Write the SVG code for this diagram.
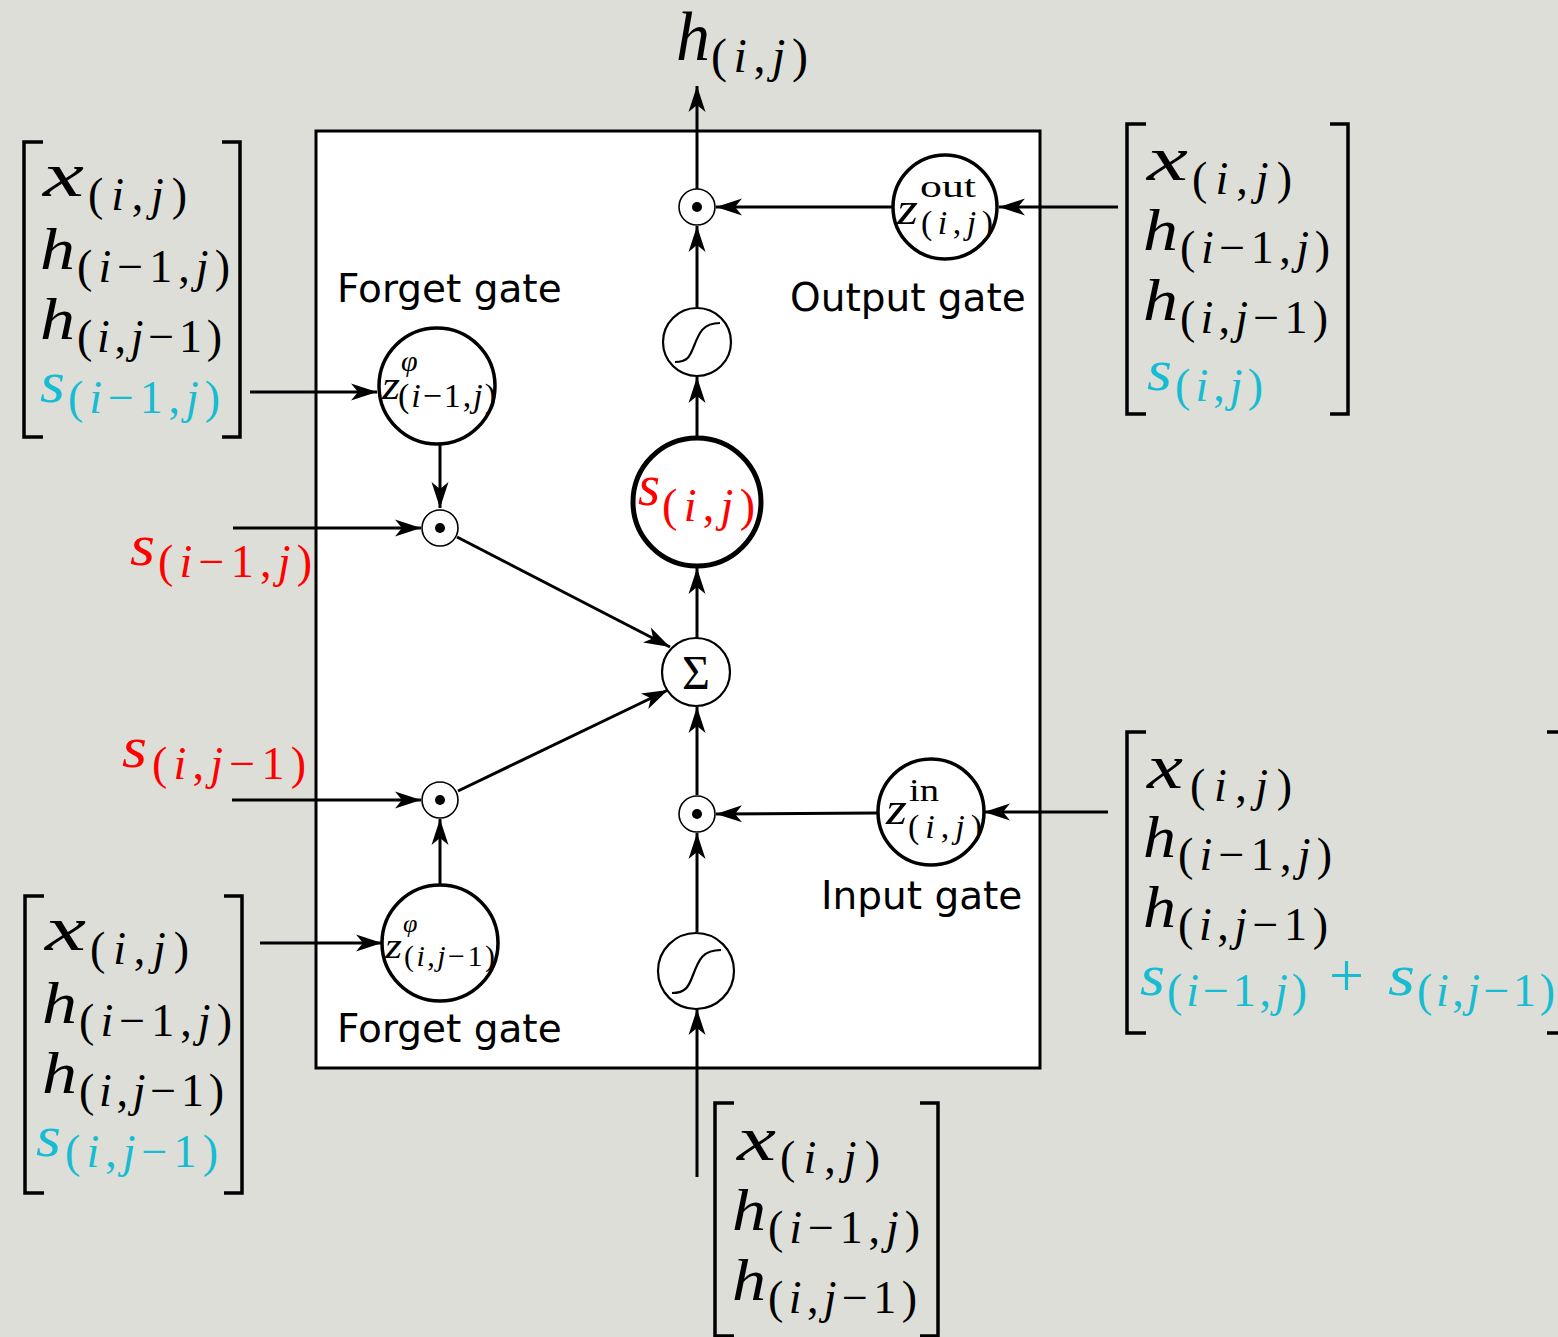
<svg xmlns="http://www.w3.org/2000/svg" width="1558" height="1337" viewBox="0 0 1558 1337">
<defs>
<style>
.m{font-family:"Liberation Serif","DejaVu Serif","Times New Roman",serif;font-style:italic;}
.u{font-style:normal;}
.L{font-size:60px;}
.X{font-size:64px;}
.S{font-size:46px;}
.cy{fill:#17bcd3;}
.rd{fill:#ff0000;}
.sans{font-family:"DejaVu Sans","Liberation Sans",sans-serif;font-size:39px;fill:#000;}
.br{fill:none;stroke:#000;stroke-width:3.5;}
.con{fill:none;stroke:#000;stroke-width:3;marker-end:url(#ah);}
.odot{fill:#fff;stroke:#000;stroke-width:1.6;}
.zc{fill:#fff;stroke:#000;stroke-width:3.5;}
.sg{fill:#fff;stroke:#000;stroke-width:2.2;}
.sgc{fill:none;stroke:#000;stroke-width:2.2;}
</style>
<marker id="ah" viewBox="-28 -10 30 20" refX="0" refY="0" markerWidth="30" markerHeight="20" markerUnits="userSpaceOnUse" orient="auto">
<path d="M0,0 L-26,-8.5 L-19,0 L-26,8.5 Z" fill="#000"/>
</marker>
</defs>
<rect x="0" y="0" width="1558" height="1337" fill="#dcded7"/>

<g id="cell-box">
<rect x="316" y="131" width="724" height="937" fill="#fff" stroke="#000" stroke-width="3"/>
</g>

<g id="connectors">
<path class="con" d="M697,189 V86"/>
<path class="con" d="M892,207 H716"/>
<path class="con" d="M1118,207 H999"/>
<path class="con" d="M697,307 V226"/>
<path class="con" d="M697,437 V377"/>
<path class="con" d="M697,639 V568"/>
<path class="con" d="M697,795 V707"/>
<path class="con" d="M697,932 V833"/>
<path class="con" d="M697,1177 V1009"/>
<path class="con" d="M877,813 L716,814"/>
<path class="con" d="M1108,812 H984"/>
<path class="con" d="M250,392 H377"/>
<path class="con" d="M440,444 V508"/>
<path class="con" d="M233,528 H421"/>
<path class="con" d="M232,800 H421"/>
<path class="con" d="M440,885 V819"/>
<path class="con" d="M260,943 H382"/>
<path class="con" d="M457,537 L670,647"/>
<path class="con" d="M458,791 L668,690"/>
</g>

<g id="node-odot-out">
<circle class="odot" cx="697" cy="207" r="18"/><circle cx="697" cy="207" r="5"/>
</g>
<g id="node-z-out">
<circle class="zc" cx="945" cy="207" r="52"/>
<text class="m" x="897" y="224" font-size="46" textLength="21" lengthAdjust="spacingAndGlyphs">z</text>
<text class="m u" x="920" y="197" font-size="32" textLength="56" lengthAdjust="spacingAndGlyphs">out</text>
<text class="m" x="921" y="234" font-size="34" textLength="72" lengthAdjust="spacing"><tspan class="u">(</tspan>i<tspan class="u">,</tspan>j<tspan class="u">)</tspan></text>
</g>
<g id="node-sigmoid-out">
<circle class="sg" cx="697" cy="342" r="34"/>
<path class="sgc" d="M675,362 C688,362 690,356 694,346 C699,333 703,323 720,323"/>
</g>
<g id="node-state">
<circle cx="697" cy="502" r="64" fill="#fff" stroke="#000" stroke-width="5"/>
<text class="m rd L" x="638" y="505" textLength="22" lengthAdjust="spacingAndGlyphs">s</text>
<text class="m rd S" x="662" y="521" textLength="93" lengthAdjust="spacing"><tspan class="u">(</tspan>i<tspan class="u">,</tspan>j<tspan class="u">)</tspan></text>
</g>
<g id="node-sum">
<circle class="sg" cx="696" cy="672" r="34"/>
<text x="696" y="689" font-family="Liberation Serif, DejaVu Serif, serif" font-size="48" text-anchor="middle">Σ</text>
</g>
<g id="node-odot-in">
<circle class="odot" cx="697" cy="814" r="18"/><circle cx="697" cy="814" r="5"/>
</g>
<g id="node-sigmoid-in">
<circle class="sg" cx="696" cy="971" r="38"/>
<path class="sgc" d="M672,993 C686,993 689,986 693,975 C699,959 703,950 721,950"/>
</g>
<g id="node-z-in">
<circle class="zc" cx="931" cy="812" r="53"/>
<text class="m" x="886" y="824" font-size="46" textLength="21" lengthAdjust="spacingAndGlyphs">z</text>
<text class="m u" x="909" y="801" font-size="32" textLength="30" lengthAdjust="spacingAndGlyphs">in</text>
<text class="m" x="908" y="838" font-size="34" textLength="74" lengthAdjust="spacing"><tspan class="u">(</tspan>i<tspan class="u">,</tspan>j<tspan class="u">)</tspan></text>
</g>
<g id="node-z-phi-top">
<circle class="zc" cx="437" cy="386" r="58"/>
<text class="m" x="382" y="399" font-size="42" textLength="18" lengthAdjust="spacingAndGlyphs">z</text>
<text class="m" x="401" y="371" font-size="30">φ</text>
<text class="m" x="398" y="407" font-size="34" textLength="98" lengthAdjust="spacing"><tspan class="u">(</tspan>i<tspan class="u">−1,</tspan>j<tspan class="u">)</tspan></text>
</g>
<g id="node-odot-f1">
<circle class="odot" cx="440" cy="528" r="18"/><circle cx="440" cy="528" r="5"/>
</g>
<g id="node-odot-f2">
<circle class="odot" cx="440" cy="800" r="18"/><circle cx="440" cy="800" r="5"/>
</g>
<g id="node-z-phi-bottom">
<circle class="zc" cx="440" cy="943" r="58"/>
<text class="m" x="385" y="958" font-size="36" textLength="17" lengthAdjust="spacingAndGlyphs">z</text>
<text class="m" x="403" y="932" font-size="26">φ</text>
<text class="m" x="404" y="966" font-size="30" textLength="91" lengthAdjust="spacing"><tspan class="u">(</tspan>i<tspan class="u">,</tspan>j<tspan class="u">−1)</tspan></text>
</g>

<g id="labels">
<text class="sans" x="337" y="302">Forget gate</text>
<text class="sans" x="790" y="311">Output gate</text>
<text class="sans" x="821" y="909">Input gate</text>
<text class="sans" x="337" y="1042">Forget gate</text>
<text class="m" x="676" y="60" font-size="70" textLength="34" lengthAdjust="spacingAndGlyphs">h</text>
<text class="m" x="711" y="72" font-size="48" textLength="97" lengthAdjust="spacing"><tspan class="u">(</tspan>i<tspan class="u">,</tspan>j<tspan class="u">)</tspan></text>
<text class="m rd L" x="130" y="565" textLength="25" lengthAdjust="spacingAndGlyphs">s</text>
<text class="m rd S" x="158" y="577" textLength="154" lengthAdjust="spacing"><tspan class="u">(</tspan>i<tspan class="u">−1,</tspan>j<tspan class="u">)</tspan></text>
<text class="m rd L" x="122" y="767" textLength="25" lengthAdjust="spacingAndGlyphs">s</text>
<text class="m rd S" x="152" y="779" textLength="154" lengthAdjust="spacing"><tspan class="u">(</tspan>i<tspan class="u">,</tspan>j<tspan class="u">−1)</tspan></text>
</g>

<g id="vec-top-left">
<path class="br" d="M43,142 H24 V437 H43"/><path class="br" d="M222,142 H240 V437 H222"/>
<text class="m X" x="43" y="196" textLength="41" lengthAdjust="spacingAndGlyphs">x</text>
<text class="m S" x="88" y="210" textLength="99" lengthAdjust="spacing"><tspan class="u">(</tspan>i<tspan class="u">,</tspan>j<tspan class="u">)</tspan></text>
<text class="m L" x="40" y="269" textLength="35" lengthAdjust="spacingAndGlyphs">h</text>
<text class="m S" x="77" y="282" textLength="153" lengthAdjust="spacing"><tspan class="u">(</tspan>i<tspan class="u">−1,</tspan>j<tspan class="u">)</tspan></text>
<text class="m L" x="40" y="339" textLength="35" lengthAdjust="spacingAndGlyphs">h</text>
<text class="m S" x="77" y="352" textLength="145" lengthAdjust="spacing"><tspan class="u">(</tspan>i<tspan class="u">,</tspan>j<tspan class="u">−1)</tspan></text>
<text class="m L cy" x="40" y="402" textLength="25" lengthAdjust="spacingAndGlyphs">s</text>
<text class="m S cy" x="68" y="413" textLength="152" lengthAdjust="spacing"><tspan class="u">(</tspan>i<tspan class="u">−1,</tspan>j<tspan class="u">)</tspan></text>
</g>

<g id="vec-bottom-left">
<path class="br" d="M44,896 H25 V1193 H44"/><path class="br" d="M224,896 H242 V1193 H224"/>
<text class="m X" x="45" y="950" textLength="41" lengthAdjust="spacingAndGlyphs">x</text>
<text class="m S" x="90" y="964" textLength="99" lengthAdjust="spacing"><tspan class="u">(</tspan>i<tspan class="u">,</tspan>j<tspan class="u">)</tspan></text>
<text class="m L" x="42" y="1023" textLength="35" lengthAdjust="spacingAndGlyphs">h</text>
<text class="m S" x="79" y="1036" textLength="153" lengthAdjust="spacing"><tspan class="u">(</tspan>i<tspan class="u">−1,</tspan>j<tspan class="u">)</tspan></text>
<text class="m L" x="42" y="1093" textLength="35" lengthAdjust="spacingAndGlyphs">h</text>
<text class="m S" x="79" y="1106" textLength="145" lengthAdjust="spacing"><tspan class="u">(</tspan>i<tspan class="u">,</tspan>j<tspan class="u">−1)</tspan></text>
<text class="m L cy" x="36" y="1156" textLength="25" lengthAdjust="spacingAndGlyphs">s</text>
<text class="m S cy" x="65" y="1167" textLength="153" lengthAdjust="spacing"><tspan class="u">(</tspan>i<tspan class="u">,</tspan>j<tspan class="u">−1)</tspan></text>
</g>

<g id="vec-top-right">
<path class="br" d="M1146,124 H1127 V414 H1146"/><path class="br" d="M1330,124 H1348 V414 H1330"/>
<text class="m X" x="1147" y="180" textLength="41" lengthAdjust="spacingAndGlyphs">x</text>
<text class="m S" x="1192" y="194" textLength="100" lengthAdjust="spacing"><tspan class="u">(</tspan>i<tspan class="u">,</tspan>j<tspan class="u">)</tspan></text>
<text class="m L" x="1143" y="250" textLength="35" lengthAdjust="spacingAndGlyphs">h</text>
<text class="m S" x="1180" y="263" textLength="150" lengthAdjust="spacing"><tspan class="u">(</tspan>i<tspan class="u">−1,</tspan>j<tspan class="u">)</tspan></text>
<text class="m L" x="1143" y="320" textLength="35" lengthAdjust="spacingAndGlyphs">h</text>
<text class="m S" x="1180" y="333" textLength="148" lengthAdjust="spacing"><tspan class="u">(</tspan>i<tspan class="u">,</tspan>j<tspan class="u">−1)</tspan></text>
<text class="m L cy" x="1147" y="390" textLength="25" lengthAdjust="spacingAndGlyphs">s</text>
<text class="m S cy" x="1175" y="401" textLength="88" lengthAdjust="spacing"><tspan class="u">(</tspan>i<tspan class="u">,</tspan>j<tspan class="u">)</tspan></text>
</g>

<g id="vec-right">
<path class="br" d="M1146,732 H1127 V1033 H1146"/><path class="br" d="M1547,732 H1562 V1033 H1547"/>
<text class="m X" x="1147" y="788" textLength="36" lengthAdjust="spacingAndGlyphs">x</text>
<text class="m S" x="1190" y="801" textLength="102" lengthAdjust="spacing"><tspan class="u">(</tspan>i<tspan class="u">,</tspan>j<tspan class="u">)</tspan></text>
<text class="m L" x="1143" y="857" textLength="33" lengthAdjust="spacingAndGlyphs">h</text>
<text class="m S" x="1178" y="870" textLength="154" lengthAdjust="spacing"><tspan class="u">(</tspan>i<tspan class="u">−1,</tspan>j<tspan class="u">)</tspan></text>
<text class="m L" x="1143" y="927" textLength="33" lengthAdjust="spacingAndGlyphs">h</text>
<text class="m S" x="1178" y="940" textLength="150" lengthAdjust="spacing"><tspan class="u">(</tspan>i<tspan class="u">,</tspan>j<tspan class="u">−1)</tspan></text>
<text class="m L cy" x="1140" y="995" textLength="25" lengthAdjust="spacingAndGlyphs">s</text>
<text class="m S cy" x="1167" y="1006" textLength="140" lengthAdjust="spacing"><tspan class="u">(</tspan>i<tspan class="u">−1,</tspan>j<tspan class="u">)</tspan></text>
<text class="m u cy" x="1329" y="996" font-size="62">+</text>
<text class="m L cy" x="1388" y="995" textLength="27" lengthAdjust="spacingAndGlyphs">s</text>
<text class="m S cy" x="1417" y="1006" textLength="138" lengthAdjust="spacing"><tspan class="u">(</tspan>i<tspan class="u">,</tspan>j<tspan class="u">−1)</tspan></text>
</g>

<g id="vec-bottom">
<path class="br" d="M734,1103 H715 V1336 H734"/><path class="br" d="M920,1103 H938 V1336 H920"/>
<text class="m X" x="737" y="1160" textLength="39" lengthAdjust="spacingAndGlyphs">x</text>
<text class="m S" x="780" y="1173" textLength="100" lengthAdjust="spacing"><tspan class="u">(</tspan>i<tspan class="u">,</tspan>j<tspan class="u">)</tspan></text>
<text class="m L" x="732" y="1230" textLength="34" lengthAdjust="spacingAndGlyphs">h</text>
<text class="m S" x="768" y="1243" textLength="152" lengthAdjust="spacing"><tspan class="u">(</tspan>i<tspan class="u">−1,</tspan>j<tspan class="u">)</tspan></text>
<text class="m L" x="732" y="1300" textLength="34" lengthAdjust="spacingAndGlyphs">h</text>
<text class="m S" x="768" y="1313" textLength="149" lengthAdjust="spacing"><tspan class="u">(</tspan>i<tspan class="u">,</tspan>j<tspan class="u">−1)</tspan></text>
</g>
</svg>
